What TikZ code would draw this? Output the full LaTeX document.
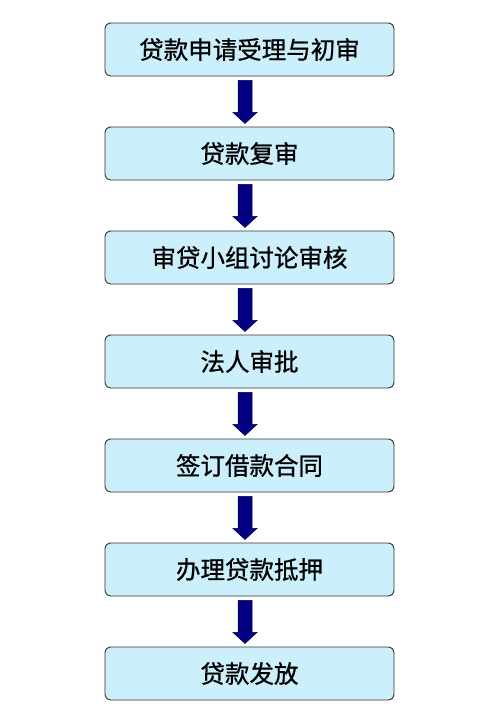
\documentclass[tikz,border=0pt]{standalone}
\usepackage{fontspec}
\newfontfamily\cjk[FakeBold=0.8]{Noto Sans CJK SC}
\begin{document}
\begin{tikzpicture}[x=1pt,y=-1pt,
  stepbox/.style={draw=black!80,line width=0.9pt,fill=cyan!20,rounded corners=6pt,
    minimum width=289pt,minimum height=53pt,inner sep=0pt,font=\cjk\fontsize{24.5}{27}\selectfont},
  arrowfill/.style={fill=blue!50!black,draw=blue!30!black,line width=0.5pt}]
\useasboundingbox (0,0) rectangle (496,713);
\foreach \i/\t in {1/贷款申请受理与初审,2/贷款复审,3/审贷小组讨论审核,4/法人审批,5/签订借款合同,6/办理贷款抵押,7/贷款发放}{
  \node[stepbox] (b\i) at (249.5,{49.5+104*(\i-1)}) {\t};
}
\foreach \i in {1,...,6}{
  \fill[arrowfill] ([xshift=-11.5pt,yshift=-4pt]b\i.south) -- ++(14,0) -- ++(0,32) -- ++(5,0)
    -- ++(-12,11) -- ++(-12,-11) -- ++(5,0) -- cycle;
}
\end{tikzpicture}
\end{document}
